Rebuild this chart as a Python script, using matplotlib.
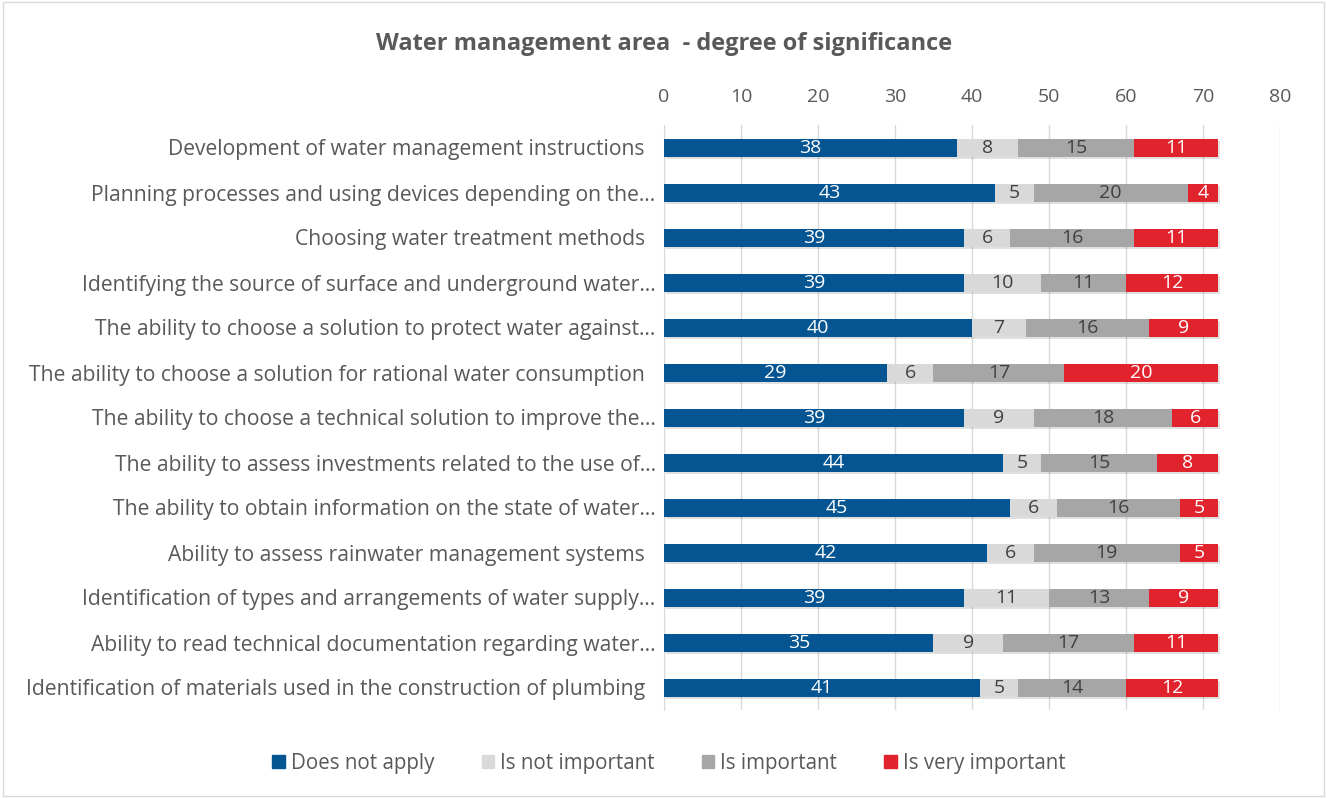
import matplotlib
matplotlib.use("Agg")
import matplotlib.pyplot as plt
import numpy as np
from matplotlib.patches import Rectangle

categories = [
    "Development of water management instructions  ",
    "Planning processes and using devices depending on the…",
    "Choosing water treatment methods  ",
    "Identifying the source of surface and underground water…",
    "The ability to choose a solution to protect water against…",
    "The ability to choose a solution for rational water consumption  ",
    "The ability to choose a technical solution to improve the…",
    "The ability to assess investments related to the use of…",
    "The ability to obtain information on the state of water…",
    "Ability to assess rainwater management systems  ",
    "Identification of types and arrangements of water supply…",
    "Ability to read technical documentation regarding water…",
    "Identification of materials used in the construction of plumbing  ",
]
does_not_apply = [38, 43, 39, 39, 40, 29, 39, 44, 45, 42, 39, 35, 41]
not_important = [8, 5, 6, 10, 7, 6, 9, 5, 6, 6, 11, 9, 5]
important = [15, 20, 16, 11, 16, 17, 18, 15, 16, 19, 13, 17, 14]
very_important = [11, 4, 11, 12, 9, 20, 6, 8, 5, 5, 9, 11, 12]
series_names = ["Does not apply", "Is not important", "Is important", "Is very important"]
ticks = [0, 10, 20, 30, 40, 50, 60, 70, 80]

colors = ["#055592", "#D9D9D9", "#A6A6A6", "#E1232E"]
text_colors = ["white", "#404040", "#404040", "white"]
series = [does_not_apply, not_important, important, very_important]

plt.rcParams['font.family'] = ['Open Sans', 'DejaVu Sans']

fig = plt.figure(figsize=(13.27, 7.98), dpi=100)
fig.patches.append(Rectangle((0.002, 0.002), 0.996, 0.996, transform=fig.transFigure,
                             fill=False, edgecolor="#D9D9D9", linewidth=1))
ax = fig.add_axes([664 / 1327, 1 - 710 / 798, (1280 - 664) / 1327, 585 / 798])

y = np.arange(len(categories))
left = np.zeros(len(categories))
for vals, c, tc, name in zip(series, colors, text_colors, series_names):
    vals = np.array(vals, dtype=float)
    ax.barh(y + 0.06, vals, left=left + 0.25, height=0.4, color="#000000", alpha=0.12, zorder=2)
    ax.barh(y, vals, left=left, height=0.4, color=c, label=name, zorder=3)
    for yi, l, v in zip(y, left, vals):
        ax.text(l + v / 2, yi + 0.02, f"{int(v)}", ha="center", va="center", color=tc,
                fontsize=14, zorder=4)
    left += vals

ax.set_xlim(0, 80)
ax.set_ylim(len(categories) - 0.5, -0.5)
ax.set_xticks(ticks)
ax.xaxis.tick_top()
ax.tick_params(axis="x", length=0, pad=14, labelsize=14, labelcolor="#595959")
ax.set_yticks(y)
ax.set_yticklabels(categories)
ax.tick_params(axis="y", length=0, pad=6, labelsize=15.2, labelcolor="#595959")
ax.grid(axis="x", color="#D9D9D9", linewidth=1, zorder=0)
ax.set_axisbelow(True)
for s in ["top", "right", "bottom"]:
    ax.spines[s].set_visible(False)
ax.spines["left"].set_color("#D9D9D9")

fig.text(664 / 1327, 1 - 44 / 798, "Water management area  - degree of significance",
         ha="center", va="center", fontsize=17, fontweight="bold", color="#595959")

handles = [Rectangle((0, 0), 1, 1, color=c) for c in colors]
fig.legend(handles, series_names, loc="center", bbox_to_anchor=(669 / 1327, 1 - 763 / 798), ncol=4,
           frameon=False, fontsize=14.8, labelcolor="#595959", handlelength=0.6, handleheight=0.6,
           handletextpad=0.3, columnspacing=2.3)

fig.savefig("out.png", dpi=100)
